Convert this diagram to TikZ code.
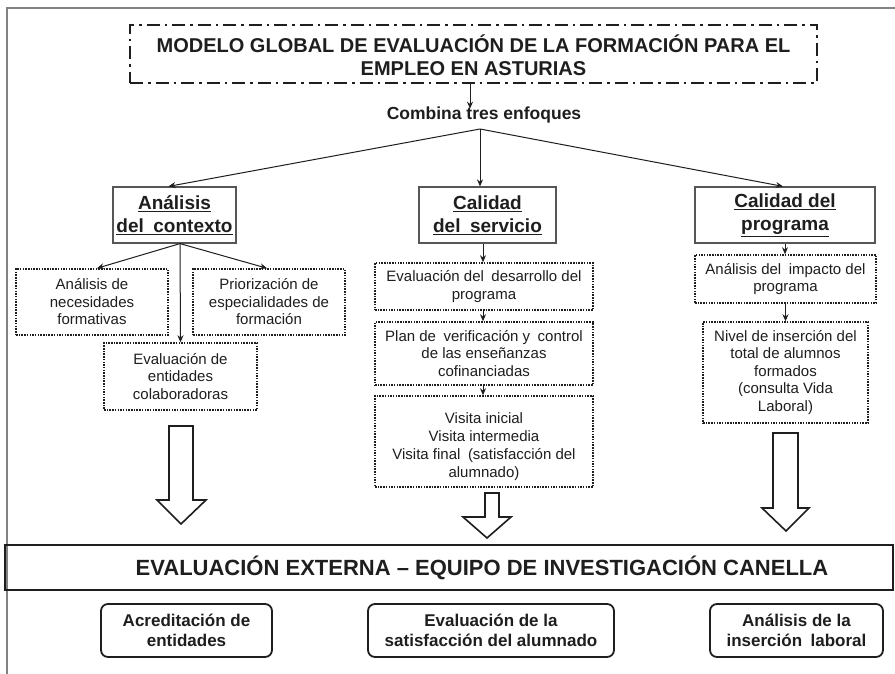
\documentclass[tikz,border=0pt]{standalone}
\usepackage{fontspec}
\setmainfont{Liberation Sans}
\usetikzlibrary{arrows.meta}
\definecolor{ink}{RGB}{30,30,30}
\definecolor{framec}{RGB}{130,130,130}
\begin{document}
\begin{tikzpicture}[x=1pt,y=-1pt,
  every node/.style={text=ink},
  titlebox/.style={draw=ink, line width=2pt, dash pattern=on 13pt off 5pt on 2.5pt off 5pt, inner sep=0pt, align=center, font=\fontsize{20}{23}\selectfont\bfseries},
  hdr/.style={draw=ink!75, line width=1.2pt, inner sep=0pt, align=center, font=\fontsize{19}{23}\selectfont\bfseries},
  sub/.style={draw=ink, line width=1.5pt, dash pattern=on 1.5pt off 1.2pt, inner sep=0pt, align=center, font=\fontsize{15}{17.5}\selectfont},
  outbox/.style={draw=ink, line width=1.8pt, rounded corners=7pt, inner sep=0pt, align=center, font=\fontsize{17}{20}\selectfont\bfseries},
  arr/.style={draw=ink, line width=1pt, -{Stealth[length=7pt,width=6pt]}},
  blk/.style={draw=ink, line width=1.6pt, fill=white, line join=miter},
]
\useasboundingbox (0,0) rectangle (895,674);
\fill[white] (0,0) rectangle (895,674);
% outer frame
\draw[framec, line width=2pt] (7,674) -- (7,8) -- (895,8);

% title
\node[titlebox, minimum width=687pt, minimum height=58pt] (title) at (473.5,54)
  {\rule{0pt}{21pt}MODELO GLOBAL DE EVALUACIÓN DE LA FORMACIÓN PARA EL\\EMPLEO EN ASTURIAS};
\node[font=\fontsize{17.5}{20}\selectfont\bfseries, inner sep=0pt] (comb) at (484,115) {Combina tres enfoques};
\coordinate (br) at (480,129);
\draw[arr] ([xshift=-3.5pt]title.south) -- ([xshift=-14pt,yshift=-2pt]comb.north);

% headers
\node[hdr, minimum width=123pt, minimum height=56pt] (ctx) at (174.5,215) {\underline{Análisis}\\\underline{del\enspace contexto}};
\node[hdr, minimum width=137pt, minimum height=56pt] (srv) at (487.5,215) {\underline{Calidad}\\\underline{del\enspace servicio}};
\node[hdr, minimum width=180pt, minimum height=56pt] (prg) at (785,215) {\underline{Calidad del}\\\underline{programa}};
\draw[arr] (br) -- ([xshift=-6pt]ctx.north);
\draw[arr] (br) -- ([xshift=-7.5pt]srv.north);
\draw[arr] (br) -- ([xshift=-2pt]prg.north);

% context column
\node[sub, minimum width=152pt, minimum height=66pt] (nec) at (92,302) {Análisis de\\necesidades\\formativas};
\node[sub, minimum width=152pt, minimum height=66pt] (pri) at (269,302) {Priorización de\\especialidades de\\formación};
\node[sub, minimum width=153pt, minimum height=67pt] (ent) at (180.5,376.5) {Evaluación de\\entidades\\colaboradoras};
\draw[arr] ([xshift=5.5pt]ctx.south) -- ([xshift=5pt]nec.north);
\draw[arr] ([xshift=5.5pt]ctx.south) -- ([xshift=-2pt]pri.north);
\draw[arr] ([xshift=5.5pt]ctx.south) -- (ent.north);

% service column
\node[sub, minimum width=218pt, minimum height=47pt] (des) at (484,286.5) {Evaluación del\enspace desarrollo del\\programa};
\node[sub, minimum width=218pt, minimum height=63pt] (pla) at (484,353.5) {Plan de\enspace verificación y\enspace control\\de las enseñanzas\\cofinanciadas};
\node[sub, minimum width=218pt, minimum height=91pt, font=\fontsize{15}{18}\selectfont] (vis) at (484,441.5) {\rule{0pt}{22pt}Visita inicial\\Visita intermedia\\Visita final\enspace(satisfacción del\\alumnado)};
\draw[arr] ([xshift=-1pt]des.north |- srv.south) -- ([xshift=-1pt]des.north);
\draw[arr] ([xshift=-1pt]des.south) -- ([xshift=-1pt]pla.north);
\draw[arr] ([xshift=-1pt]pla.south) -- ([xshift=-1pt]vis.north);

% programme column
\node[sub, minimum width=181pt, minimum height=48pt] (imp) at (785.5,279) {Análisis del\enspace impacto del\\programa};
\node[sub, minimum width=165pt, minimum height=101pt] (niv) at (785.5,372.5) {Nivel de inserción del\\total de alumnos\\formados\\(consulta Vida\\Laboral)};
\draw[arr] (prg.south) -- (prg.south |- imp.north);
\draw[arr] (imp.south) -- (imp.south |- niv.north);

% block arrows
\draw[blk] (169,426) -- (193,426) -- (193,500) -- (206,500) -- (181,524) -- (157,500) -- (169,500) -- cycle;
\draw[blk] (485,493) -- (499,493) -- (499,517) -- (511,517) -- (487,538) -- (463,517) -- (485,517) -- cycle;
\draw[blk] (773,433) -- (798,433) -- (798,508) -- (809,508) -- (786,531) -- (762,508) -- (773,508) -- cycle;

% external evaluation
\node[draw=ink, line width=2pt, minimum width=888pt, minimum height=45pt, inner sep=0pt] (ev) at (449,567.5) {};
\node[font=\fontsize{22}{26}\selectfont\bfseries, inner sep=0pt] (evt) at (482,568) {EVALUACIÓN EXTERNA – EQUIPO DE INVESTIGACIÓN CANELLA};

% outcomes
\node[outbox, minimum width=171pt, minimum height=53pt] (acr) at (186.5,630.5) {Acreditación de\\entidades};
\node[outbox, minimum width=246pt, minimum height=53pt] (sat) at (491,630.5) {Evaluación de la\\satisfacción del alumnado};
\node[outbox, minimum width=173pt, minimum height=53pt] (ins) at (796.5,630.5) {Análisis de la\\inserción\enspace laboral};
\end{tikzpicture}
\end{document}
